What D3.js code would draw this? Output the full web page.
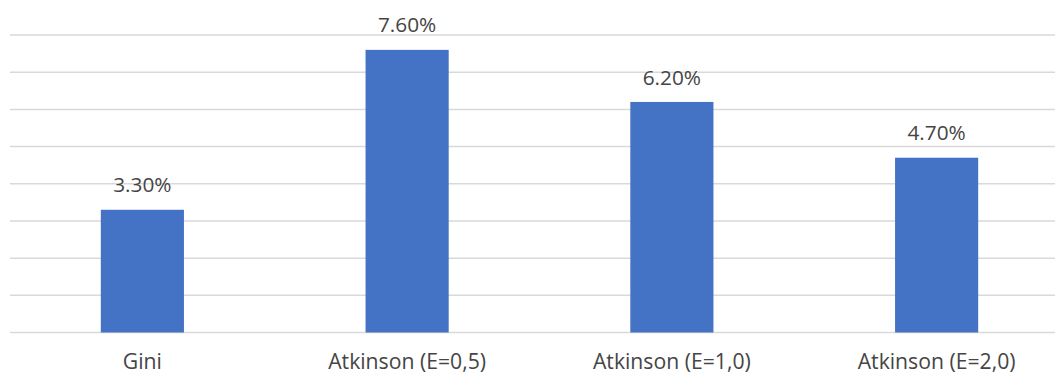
<!DOCTYPE html>
<html>
<head>
<meta charset="utf-8">
<script src="https://cdn.jsdelivr.net/npm/d3@7"></script>
<style>
  html, body { margin: 0; padding: 0; background: #fff; }
  svg { display: block; }
  text { font-family: "Open Sans", "Segoe UI", sans-serif; fill: #454545; }
</style>
</head>
<body>
<svg id="chart" width="1055" height="374"></svg>
<script>
const categories = ["Gini", "Atkinson (E=0,5)", "Atkinson (E=1,0)", "Atkinson (E=2,0)"];
const values = [3.3, 7.6, 6.2, 4.7];
const labels = ["3.30%", "7.60%", "6.20%", "4.70%"];
const yTicks = [0, 1, 2, 3, 4, 5, 6, 7, 8];

(function () {
const svg = d3.select("#chart");
const W = 1055;
const mLeft = 10, mRight = 1069, mTop = 35, mBottom = 332.5;

const x = d3.scaleBand().domain(categories).range([mLeft, mRight]).paddingInner(0.686).paddingOuter(0.343);
const y = d3.scaleLinear().domain([0, 8]).range([mBottom, mTop]);

// gridlines
svg.append("g").selectAll("line").data(yTicks).join("line")
  .attr("x1", mLeft).attr("x2", W)
  .attr("y1", d => y(d)).attr("y2", d => y(d))
  .attr("stroke", "#d9d9d9").attr("stroke-width", 1.5);

// bars
svg.append("g").selectAll("rect").data(values).join("rect")
  .attr("x", (d, i) => x(categories[i]))
  .attr("width", x.bandwidth())
  .attr("y", d => y(d))
  .attr("height", d => y(0) - y(d))
  .attr("fill", "#4472c4");

// value labels
svg.append("g").selectAll("text").data(values).join("text")
  .attr("x", (d, i) => x(categories[i]) + x.bandwidth() / 2)
  .attr("y", d => y(d) - 17.4)
  .attr("text-anchor", "middle")
  .attr("font-size", 20.8)
  .text((d, i) => labels[i]);

// category axis labels
svg.append("g").selectAll("text").data(categories).join("text")
  .attr("x", d => x(d) + x.bandwidth() / 2)
  .attr("y", 368.5)
  .attr("text-anchor", "middle")
  .attr("font-size", 21.2)
  .text(d => d);
})();
</script>
</body>
</html>
